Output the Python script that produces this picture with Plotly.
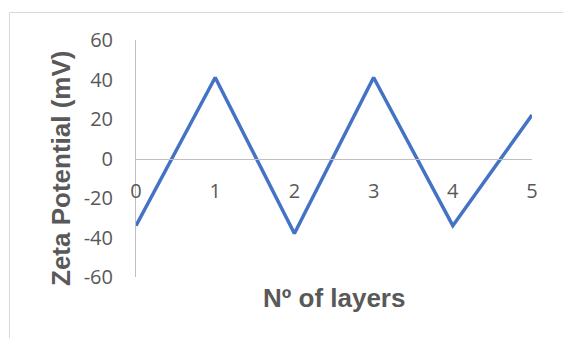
import plotly.graph_objects as go

layers = [0, 1, 2, 3, 4, 5]
zeta_mv = [-34, 41, -38, 41, -34, 22]
y_ticks = [-60, -40, -20, 0, 20, 40, 60]
x_ticks = [0, 1, 2, 3, 4, 5]

W, H = 563, 338
ML, MR, MT, MB = 136, 31, 40, 61
PW, PH = W - ML - MR, H - MT - MB

def px_x(px):
    return (px - ML) / PW

def px_y(py):
    return (H - MB - py) / PH

fig = go.Figure()
fig.add_trace(go.Scatter(
    x=layers, y=zeta_mv, mode="lines",
    line=dict(color="#4472C4", width=3.5),
    cliponaxis=False, showlegend=False, hoverinfo="skip",
))

fig.update_layout(
    width=W, height=H,
    margin=dict(l=ML, r=MR, t=MT, b=MB),
    paper_bgcolor="white", plot_bgcolor="white",
    xaxis=dict(
        range=[0, 5], tickvals=x_ticks, ticktext=[str(v) for v in x_ticks],
        showgrid=False, zeroline=False, showline=True, linecolor="#BFBFBF", linewidth=1,
        anchor="free", position=0.5, ticks="",
        tickfont=dict(family="Open Sans", size=20, color="#595959"),
        ticklabelstandoff=14,
    ),
    yaxis=dict(
        range=[-60, 60], tickvals=y_ticks, ticktext=[str(v) for v in y_ticks],
        showgrid=False, zeroline=False, showline=True, linecolor="#BFBFBF", linewidth=1,
        ticks="", tickfont=dict(family="Open Sans", size=20, color="#595959"),
        ticklabelstandoff=18,
    ),
    shapes=[dict(
        type="rect", xref="paper", yref="paper",
        x0=px_x(9.5), x1=px_x(W + 20), y0=px_y(H + 20), y1=px_y(12.5),
        line=dict(color="#D9D9D9", width=1), fillcolor="rgba(0,0,0,0)", layer="below",
    )],
    annotations=[
        dict(text="<b>Zeta Potential (mV)</b>", xref="paper", yref="paper",
             x=px_x(61), y=px_y(169), textangle=-90, showarrow=False,
             xanchor="center", yanchor="middle",
             font=dict(family="Liberation Sans", size=26, color="#595959")),
        dict(text="<b>Nº of layers</b>", xref="paper", yref="paper",
             x=px_x(334), y=px_y(298), showarrow=False,
             xanchor="center", yanchor="middle",
             font=dict(family="Liberation Sans", size=26, color="#595959")),
    ],
)

fig.write_html("out.html", config={"displayModeBar": False})

with open("out.html", "r", encoding="utf-8") as f:
    html = f.read()
html = html.replace("<head>", "<head><style>html,body{margin:0;padding:0;overflow:hidden;}</style>", 1)
with open("out.html", "w", encoding="utf-8") as f:
    f.write(html)
